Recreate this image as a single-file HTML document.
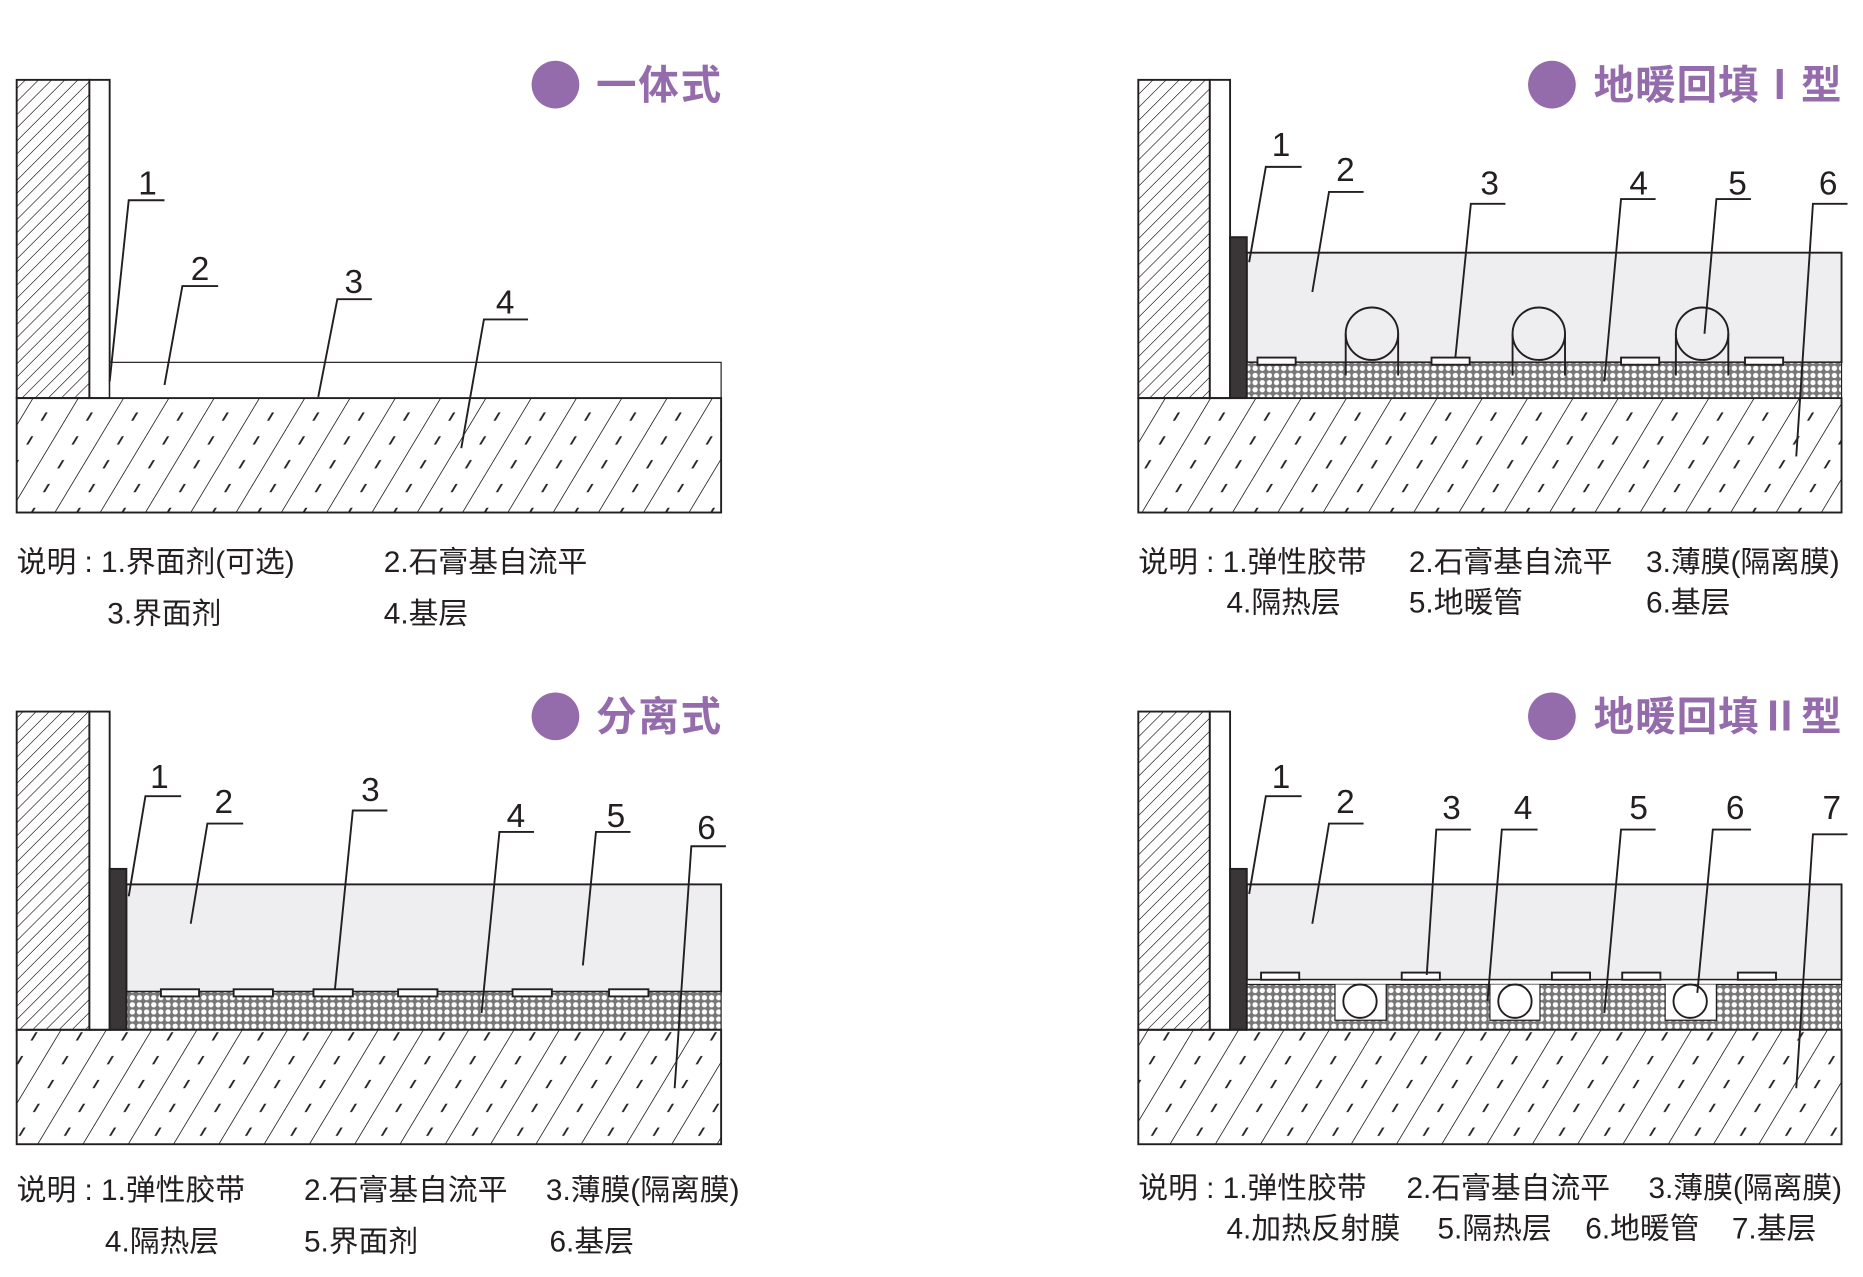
<!DOCTYPE html>
<html><head><meta charset="utf-8"><style>
html,body{margin:0;padding:0;background:#fff;}
svg{display:block;}
text{font-family:"Liberation Sans","Noto Sans CJK SC",sans-serif;}
.cap{font-size:25px;fill:#231f20;}
.num{font-size:28px;fill:#231f20;}
.ttl{font-size:34px;font-weight:bold;fill:#956cab;font-family:"Noto Sans CJK SC","WenQuanYi Zen Hei",sans-serif;}
</style></head><body>
<svg width="1863" height="1277" viewBox="0 0 1563 1071.4" preserveAspectRatio="none" xmlns="http://www.w3.org/2000/svg">
<defs>
<pattern id="wall" width="11" height="20" patternUnits="userSpaceOnUse" patternTransform="skewX(-45)">
<line x1="0" y1="0" x2="0" y2="20" stroke="#231f20" stroke-width="1.6"/>
</pattern>
<pattern id="base" width="38" height="20" patternUnits="userSpaceOnUse" patternTransform="skewX(-31)">
<line x1="0" y1="0" x2="0" y2="20" stroke="#231f20" stroke-width="1.6"/>
<line x1="19" y1="6" x2="19" y2="13" stroke="#231f20" stroke-width="1.8"/>
</pattern>
<pattern id="ins" width="6" height="6" patternUnits="userSpaceOnUse">
<rect width="6" height="6" fill="#777"/>
<circle cx="3" cy="3" r="2.2" fill="#fff"/>
</pattern>
</defs>
<g stroke="#231f20" stroke-width="1.6" fill="none">
<!-- Panel 1 -->
<rect x="14" y="67" width="61" height="267" fill="url(#wall)"/>
<rect x="75" y="67" width="17" height="267" fill="#fff"/>
<rect x="92" y="304" width="513" height="30" fill="#fff" stroke-width="1"/>
<rect x="14" y="334" width="591" height="96" fill="url(#base)"/>
<polyline points="138,168 108,168 92,320"/>
<polyline points="183,240 153,240 138,323"/>
<polyline points="312,251 283,251 267,333"/>
<polyline points="443,268 406,268 387,376"/>

<!-- Panel 2 -->
<rect x="955" y="67" width="60" height="267" fill="url(#wall)"/>
<rect x="1015" y="67" width="17" height="267" fill="#fff"/>
<rect x="1046" y="212" width="499" height="92" fill="#eeeef0"/>
<rect x="1046" y="304" width="499" height="30" fill="url(#ins)" stroke-width="1"/>
<rect x="1032" y="199" width="14" height="135" fill="#3a3536"/>
<rect x="955" y="334" width="590" height="96" fill="url(#base)"/>
<g fill="#fff">
<rect x="1055" y="300" width="32" height="6"/><rect x="1201" y="300" width="32" height="6"/><rect x="1360" y="300" width="32" height="6"/><rect x="1464" y="300" width="32" height="6"/>
</g>
<g>
<circle cx="1151" cy="280" r="22" fill="#eeeef0"/><path d="M1129,280 V315 M1173,280 V315"/>
<circle cx="1291" cy="280" r="22" fill="#eeeef0"/><path d="M1269,280 V315 M1313,280 V315"/>
<circle cx="1428" cy="280" r="22" fill="#eeeef0"/><path d="M1406,280 V315 M1450,280 V315"/>
</g>
<polyline points="1092,140 1062,140 1048,220"/>
<polyline points="1144,161 1115,161 1101,245"/>
<polyline points="1263,171 1234,171 1221,300"/>
<polyline points="1389,167 1360,167 1346,320"/>
<polyline points="1469,167 1440,167 1430,280"/>
<polyline points="1550,171 1521,171 1507,383"/>

<!-- Panel 3 -->
<rect x="14" y="597" width="61" height="267" fill="url(#wall)"/>
<rect x="75" y="597" width="17" height="267" fill="#fff"/>
<rect x="106" y="742" width="499" height="90" fill="#eeeef0"/>
<rect x="106" y="832" width="499" height="32" fill="url(#ins)" stroke-width="1"/>
<rect x="92" y="729" width="14" height="135" fill="#3a3536"/>
<rect x="14" y="864" width="591" height="96" fill="url(#base)"/>
<g fill="#fff">
<rect x="135" y="830" width="32" height="6"/><rect x="196" y="830" width="33" height="6"/><rect x="263" y="830" width="33" height="6"/><rect x="334" y="830" width="33" height="6"/><rect x="430" y="830" width="33" height="6"/><rect x="511" y="830" width="33" height="6"/>
</g>
<polyline points="152,668 122,668 108,752"/>
<polyline points="204,691 174,691 160,775"/>
<polyline points="325,680 296,680 281,830"/>
<polyline points="448,698 419,698 404,850"/>
<polyline points="529,698 500,698 489,810"/>
<polyline points="609,710 580,710 566,913"/>

<!-- Panel 4 -->
<rect x="955" y="597" width="60" height="267" fill="url(#wall)"/>
<rect x="1015" y="597" width="17" height="267" fill="#fff"/>
<rect x="1046" y="742" width="499" height="80" fill="#eeeef0"/>
<rect x="1046" y="822" width="499" height="4" fill="#fff" stroke-width="1"/>
<rect x="1046" y="826" width="499" height="38" fill="url(#ins)" stroke-width="1"/>
<g fill="#fff" stroke="none">
<rect x="1120" y="826" width="43" height="30"/><rect x="1250" y="826" width="42" height="30"/><rect x="1397" y="826" width="43" height="30"/>
</g>
<g stroke-width="1">
<path d="M1120,826 V856 H1163 V826 M1250,826 V856 H1292 V826 M1397,826 V856 H1440 V826"/>
</g>
<circle cx="1141" cy="840" r="14" fill="#fff"/>
<circle cx="1271" cy="840" r="14" fill="#fff"/>
<circle cx="1418" cy="840" r="14" fill="#fff"/>
<rect x="1032" y="729" width="14" height="135" fill="#3a3536"/>
<rect x="955" y="864" width="590" height="96" fill="url(#base)"/>
<g fill="#fff">
<rect x="1058" y="816" width="32" height="6"/><rect x="1176" y="816" width="32" height="6"/><rect x="1302" y="816" width="32" height="6"/><rect x="1361" y="816" width="32" height="6"/><rect x="1458" y="816" width="32" height="6"/>
</g>
<polyline points="1092,668 1062,668 1048,750"/>
<polyline points="1144,691 1115,691 1101,775"/>
<polyline points="1234,696 1205,696 1197,818"/>
<polyline points="1290,696 1260,696 1248,840"/>
<polyline points="1389,696 1360,696 1346,850"/>
<polyline points="1469,696 1437,696 1424,833"/>
<polyline points="1550,700 1521,700 1507,913"/>
</g>

<!-- Titles -->
<g fill="#956cab">
<circle cx="466" cy="71" r="20"/><circle cx="1302" cy="71" r="20"/>
<circle cx="466" cy="601" r="20"/><circle cx="1302" cy="601" r="20"/>
</g>
<text class="ttl" x="500" y="83" textLength="105">一体式</text>
<text class="ttl" x="1337" y="83" textLength="208">地暖回填Ⅰ型</text>
<text class="ttl" x="500" y="613" textLength="105">分离式</text>
<text class="ttl" x="1337" y="613" textLength="208">地暖回填Ⅱ型</text>

<!-- Numbers -->
<g class="num">
<text x="116" y="163">1</text><text x="160" y="235">2</text><text x="289" y="246">3</text><text x="416" y="263">4</text>
<text x="1067" y="131">1</text><text x="1121" y="152">2</text><text x="1242" y="163">3</text><text x="1367" y="163">4</text><text x="1450" y="163">5</text><text x="1526" y="163">6</text>
<text x="126" y="661">1</text><text x="180" y="682">2</text><text x="303" y="672">3</text><text x="425" y="694">4</text><text x="509" y="694">5</text><text x="585" y="704">6</text>
<text x="1067" y="661">1</text><text x="1121" y="682">2</text><text x="1210" y="687">3</text><text x="1270" y="687">4</text><text x="1367" y="687">5</text><text x="1448" y="687">6</text><text x="1529" y="687">7</text>
</g>

<!-- Captions -->
<g class="cap">
<text x="14" y="480">说明 : 1.界面剂(可选)</text><text x="322" y="480">2.石膏基自流平</text>
<text x="90" y="523">3.界面剂</text><text x="322" y="523">4.基层</text>
<text x="955" y="480">说明 : 1.弹性胶带</text><text x="1182" y="480">2.石膏基自流平</text><text x="1381" y="480">3.薄膜(隔离膜)</text>
<text x="1029" y="514">4.隔热层</text><text x="1182" y="514">5.地暖管</text><text x="1381" y="514">6.基层</text>
<text x="14" y="1007">说明 : 1.弹性胶带</text><text x="255" y="1007">2.石膏基自流平</text><text x="458" y="1007">3.薄膜(隔离膜)</text>
<text x="88" y="1050">4.隔热层</text><text x="255" y="1050">5.界面剂</text><text x="461" y="1050">6.基层</text>
<text x="955" y="1005">说明 : 1.弹性胶带</text><text x="1180" y="1005">2.石膏基自流平</text><text x="1383" y="1005">3.薄膜(隔离膜)</text>
<text x="1029" y="1039">4.加热反射膜</text><text x="1206" y="1039">5.隔热层</text><text x="1330" y="1039">6.地暖管</text><text x="1453" y="1039">7.基层</text>
</g>
</svg>
</body></html>
